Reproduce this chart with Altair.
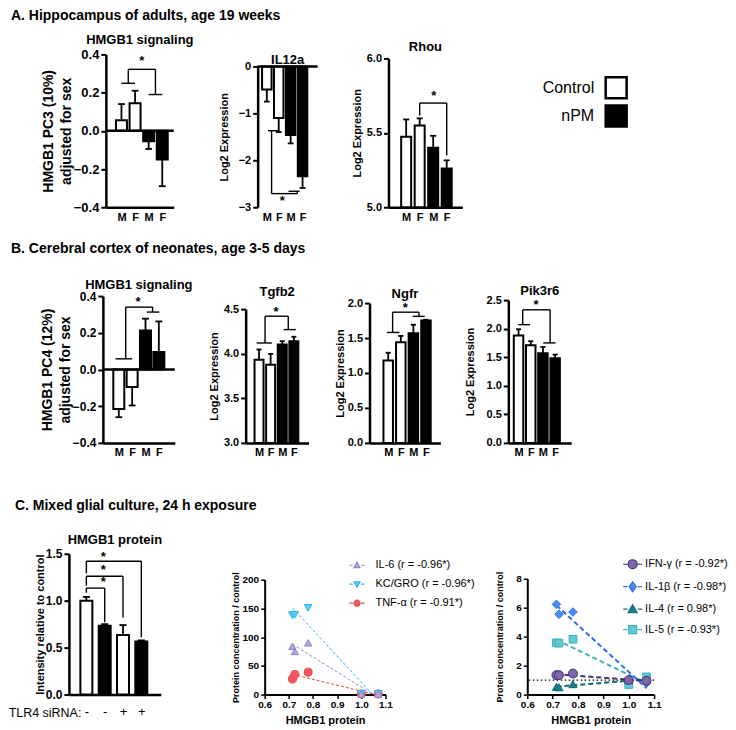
import altair as alt
import pandas as pd

FONT = "Liberation Sans"

# ---------------- shared categories ----------------
POS = [1, 2, 3, 4]
SEX = ["M", "F", "M", "F"]
GRP = ["Control", "Control", "nPM", "nPM"]
LEGEND_A = ["Control", "nPM"]
LEGEND_A_ROW = [0, 1]

# ---------------- A. Hippocampus ----------------
A1_VALS = [0.055, 0.145, -0.055, -0.15]
A1_ERRS = [0.085, 0.065, 0.04, 0.14]
A2_VALS = [-0.49, -1.10, -1.46, -2.34]
A2_ERRS = [0.26, 0.30, 0.18, 0.25]
A3_VALS = [5.473, 5.55, 5.40, 5.26]
A3_ERRS = [0.117, 0.047, 0.08, 0.055]

# ---------------- B. Cerebral cortex ----------------
B1_VALS = [-0.215, -0.096, 0.213, 0.095]
B1_ERRS = [0.045, 0.10, 0.064, 0.167]
B2_VALS = [3.933, 3.876, 4.103, 4.14]
B2_ERRS = [0.114, 0.122, 0.037, 0.05]
B3_VALS = [1.18, 1.44, 1.57, 1.75]
B3_ERRS = [0.11, 0.09, 0.12, 0.012]
B4_VALS = [1.88, 1.71, 1.57, 1.48]
B4_ERRS = [0.11, 0.07, 0.11, 0.065]

# ---------------- C. Mixed glial culture ----------------
C1_VALS = [1.0, 0.732, 0.635, 0.565]
C1_ERRS = [0.04, 0.018, 0.105, 0.012]
C1_GRP = ["Control", "nPM", "Control", "nPM"]
C1_LAB = ["-", "-", "+", "+"]

HMGB1_X = [0.715, 0.725, 0.78, 1.0, 1.07]
C2_SERIES = ["IL-6", "KC/GRO", "TNF-α"]
C2_R = ["-0.96*", "-0.96*", "-0.91*"]
C2_Y = {"IL-6": [84, 75, 90, 1, 1],
        "KC/GRO": [138, 139, 151, 1, 1],
        "TNF-α": [27, 35, 39, 1, 1]}
C3_SERIES = ["IFN-γ", "IL-1β", "IL-4", "IL-5"]
C3_R = ["-0.92*", "-0.98*", "0.98*", "-0.93*"]
C3_Y = {"IFN-γ": [1.34, 1.34, 1.45, 1.0, 0.95],
        "IL-1β": [6.23, 5.54, 5.70, 1.0, 0.8],
        "IL-4": [0.53, 0.5, 0.72, 1.0, 1.0],
        "IL-5": [3.57, 3.55, 3.82, 0.69, 1.22]}

# styles
C2_FILL = ["#b4a6dc", "#5ecbf5", "#f25a60"]
C2_STROKE = ["#9484c8", "#33b4ea", "#e2444c"]
C2_SHAPE = ["triangle-up", "triangle-down", "circle"]
C2_SIZE = [55, 65, 40]
C3_FILL = ["#7f65aa", "#4a8df5", "#17808a", "#63c8d0"]
C3_STROKE = ["#3e3172", "#2c6fe6", "#0f6b73", "#3fb2bc"]
C3_SHAPE = ["circle", "diamond", "triangle-up", "square"]
C3_SIZE = [80, 60, 60, 95]

G_TRI_UP = "M0,-1L1,0.8L-1,0.8Z"
G_TRI_DOWN = "M0,1L1,-0.8L-1,-0.8Z"
G_CIRCLE = "M-1,0A1,1,0,1,1,1,0A1,1,0,1,1,-1,0Z"
G_DIAMOND = "M0,-1.1L0.8,0L0,1.1L-0.8,0Z"
G_SQUARE = "M-0.9,-0.9L0.9,-0.9L0.9,0.9L-0.9,0.9Z"


def seg_group(g1a, g1b, y1, c1, top, c2, g2a, g2b, y2):
    return [(g1a, y1, g1b, y1), (c1, y1, c1, top), (c1, top, c2, top),
            (c2, top, c2, y2), (g2a, y2, g2b, y2)]


def seg_simple(x1, y1, top, x2, y2):
    return [(x1, y1, x1, top), (x1, top, x2, top), (x2, top, x2, y2)]


def bar_panel(title, vals, errs, groups, labels, width, H, top, xdom, ydom, yticks,
              fmt, base, ytitle, ytitle_size, ylabel_size, title_pad, bar_px, cap_px,
              zero_line, bottom_line, segs, stars, title_offset,
              xlab_weight="bold", xlab_size=11, xlab_pad=4, xaxis_extra=None):
    df = pd.DataFrame({"pos": POS, "v": vals, "e": errs, "g": groups})
    pxu = width / (xdom[1] - xdom[0])
    ch = cap_px / 2 / pxu
    lab_js = "[" + ",".join("'%s'" % l for l in labels) + "]"
    xkw = dict(values=POS, labelExpr=lab_js + "[datum.value - 1]", ticks=False,
               domain=bottom_line, domainWidth=2.5, labelFontSize=xlab_size,
               labelFontWeight=xlab_weight, labelPadding=xlab_pad, labelFlush=False,
               labelOverlap=False, grid=False, title=None)
    if xaxis_extra:
        xkw.update(xaxis_extra)
    xax = alt.Axis(**xkw)
    yax = alt.Axis(values=yticks, format=fmt, title=ytitle, titleFontSize=ytitle_size,
                   titlePadding=title_pad, labelFontSize=ylabel_size, tickSize=5,
                   tickWidth=2, domainWidth=2.5, grid=False, labelOverlap=False,
                   titleLineHeight=ytitle_size * 1.25)
    xsc = alt.Scale(domain=xdom, nice=False, zero=False)
    ysc = alt.Scale(domain=ydom, range=[H, top], nice=False, zero=False)

    def X(f):
        return alt.X(f, scale=xsc, axis=xax)

    def Y(f):
        return alt.Y(f, scale=ysc, axis=yax)

    bc = alt.Chart(df)
    bars = bc.mark_bar(size=bar_px, stroke="black", strokeWidth=2).encode(
        x=X("pos:Q"), y=Y("v:Q"), y2=alt.datum(base),
        fill=alt.Fill("g:N", scale=alt.Scale(domain=["Control", "nPM"], range=["white", "black"]),
                      legend=None))
    err_expr = "datum.v >= %s ? datum.v + datum.e : datum.v - datum.e" % base
    err = bc.transform_calculate(ve=err_expr).mark_rule(color="black", strokeWidth=1.8).encode(
        x=X("pos:Q"), y=Y("v:Q"), y2="ve:Q")
    caps = bc.transform_calculate(ve=err_expr, xl="datum.pos - %f" % ch,
                                  xr="datum.pos + %f" % ch).mark_rule(
        color="black", strokeWidth=1.8).encode(x=X("xl:Q"), x2="xr:Q", y=Y("ve:Q"))
    layers = [bars, err, caps]
    if zero_line:
        layers.append(alt.Chart(pd.DataFrame({"z": [0]})).mark_rule(
            color="black", strokeWidth=2.5).encode(y=alt.YDatum(0, scale=ysc, axis=yax)))
    sdf = pd.DataFrame(segs, columns=["sx", "sy", "sx2", "sy2"])
    layers.append(alt.Chart(sdf).mark_rule(color="black", strokeWidth=1.4).encode(
        x=X("sx:Q"), x2="sx2:Q", y=Y("sy:Q"), y2="sy2:Q"))
    tdf = pd.DataFrame(stars, columns=["tx", "ty"])
    layers.append(alt.Chart(tdf).mark_text(text="*", fontSize=13, fontWeight="bold", font=FONT,
                                           baseline="middle", color="black").encode(
        x=X("tx:Q"), y=Y("ty:Q")))
    return alt.layer(*layers).properties(
        width=width, height=H,
        title=alt.TitleParams(title, fontSize=13, fontWeight="bold", font=FONT, anchor="middle",
                              frame="group", offset=title_offset, color="black"))


def scatter_panel(series, rvals, ydata, fills, strokes, shapes, sizes, glyphs, dash_path,
                  width, H, top, ydom, yticks, ytitle_pad, line_w, dash, ref_line, leg):
    rows = []
    for s in reversed(series):
        for xv, yv in zip(HMGB1_X, ydata[s]):
            rows.append({"series": s, "hm": xv, "val": yv})
    df = pd.DataFrame(rows)
    xsc = alt.Scale(domain=[0.6, 1.1], nice=False, zero=False)
    ysc = alt.Scale(domain=ydom, range=[H, top], nice=False, zero=False)
    xax = alt.Axis(values=[0.6, 0.7, 0.8, 0.9, 1.0, 1.1], format=".1f",
                   title="HMGB1 protein", titleFontSize=11, titlePadding=5,
                   labelFontSize=10, labelPadding=1, tickSize=4, tickWidth=1.5,
                   domainWidth=2, labelFlush=False, labelOverlap=False, grid=False)
    yax = alt.Axis(values=yticks, format="d", title="Protein concentration / control",
                   titleFontSize=9, titlePadding=ytitle_pad, labelFontSize=10, labelOverlap=False,
                   tickSize=4, tickWidth=1.5, domainWidth=2, grid=False)
    x = alt.X("hm:Q", scale=xsc, axis=xax)
    y = alt.Y("val:Q", scale=ysc, axis=yax)
    layers = []
    if ref_line is not False:
        layers.append(alt.Chart(pd.DataFrame({"z": [0]})).mark_rule(
            color="black", strokeDash=[1.5, 2.5], strokeWidth=1.3).encode(
            y=alt.YDatum(ref_line, scale=ysc, axis=yax)))
    sc_stroke = alt.Scale(domain=series, range=strokes)
    layers.append(alt.Chart(df).transform_regression("hm", "val", groupby=["series"]).mark_line(
        strokeDash=dash, strokeWidth=line_w, clip=True).encode(
        x=x, y=y, stroke=alt.Stroke("series:N", scale=sc_stroke, legend=None)))
    layers.append(alt.Chart(df).mark_point(filled=True, opacity=1, strokeWidth=1).encode(
        x=x, y=y,
        shape=alt.Shape("series:N", scale=alt.Scale(domain=series, range=shapes), legend=None),
        fill=alt.Fill("series:N", scale=alt.Scale(domain=series, range=fills), legend=None),
        stroke=alt.Stroke("series:N", scale=sc_stroke, legend=None),
        size=alt.Size("series:N", scale=alt.Scale(domain=series, range=sizes), legend=None)))
    labels = ["%s (r = %s)" % (s, r) for s, r in zip(series, rvals)]
    paths = [dash_path + g for g in glyphs]
    lg = alt.Legend(orient="none", title=None, labelFont=FONT, labelFontWeight="normal",
                    labelColor="black", symbolStrokeWidth=1.2, padding=0, **leg)
    layers.append(alt.Chart(pd.DataFrame({"lg": labels})).transform_filter("false").mark_point(
        filled=True, opacity=1, strokeWidth=1.2).encode(
        shape=alt.Shape("lg:N", scale=alt.Scale(domain=labels, range=paths), legend=lg),
        fill=alt.Fill("lg:N", scale=alt.Scale(domain=labels, range=fills), legend=lg),
        stroke=alt.Stroke("lg:N", scale=alt.Scale(domain=labels, range=strokes), legend=lg)))
    return alt.layer(*layers).resolve_scale(
        shape="independent", fill="independent", stroke="independent", size="independent"
    ).properties(width=width, height=H)


def spacer(w, h, title=None, offset=0, dx=0):
    c = alt.Chart(pd.DataFrame({"z": [0]})).mark_point(opacity=0).encode(
        x=alt.value(0), y=alt.value(0)).properties(width=w, height=h)
    if title:
        c = c.properties(title=alt.TitleParams(title, anchor="start", frame="group", offset=offset,
                                               dx=dx, fontSize=14, fontWeight="bold", font=FONT,
                                               color="black"))
    return c


HA, HB, HC = 153, 147, 141
LOG2 = "Log2 Expression"

A1 = bar_panel("HMGB1 signaling", A1_VALS, A1_ERRS, GRP, SEX, 68, HA, 0, [0.22, 4.48], [-0.4, 0.4],
               [-0.4, -0.2, 0, 0.2, 0.4], ".1f", 0, ["HMGB1 PC3 (10%)", "adjusted for sex"], 14, 13,
               0, 11, 8, True, True,
               seg_group(1.0, 2.0, 0.249, 1.5, 0.322, 3.5, 3.0, 4.0, 0.19), [(2.5, 0.365)], 1.5)
A2 = bar_panel("IL12a", A2_VALS, A2_ERRS, GRP, SEX, 60, HA, 12, [0.65, 4.84], [-3, 0],
               [-3, -2, -1, 0], "d", 0, LOG2, 11, 11, 9, 9.5, 7, True, False,
               seg_group(1.1, 1.95, -1.37, 1.4, -2.71, 3.56, 2.82, 3.75, -2.66), [(2.3, -2.86)], -12.5)
A3 = bar_panel("Rhou", A3_VALS, A3_ERRS, GRP, SEX, 74, HA, 4, [0.06, 4.79], [5, 6],
               [5, 5.5, 6], ".1f", 5, LOG2, 11, 11, 3.5, 10, 7, False, True,
               seg_simple(2, 5.617, 5.70, 4, 5.35), [(3.05, 5.75)], -1.5)

# legend for the Control / nPM fill (two rows)
lgA_df = pd.DataFrame({"lgA": LEGEND_A, "row": LEGEND_A_ROW})
lgA_y = alt.Y("row:Q", scale=alt.Scale(domain=[0, 1], range=[33.3, 61.6]), axis=None)
legA = alt.layer(
    alt.Chart(lgA_df).mark_square(size=440, stroke="black", strokeWidth=2.5, opacity=1).encode(
        x=alt.value(46), y=lgA_y,
        fill=alt.Fill("lgA:N", scale=alt.Scale(domain=LEGEND_A, range=["white", "black"]),
                      legend=None)),
    alt.Chart(lgA_df).mark_text(align="right", baseline="middle", fontSize=16, font=FONT,
                                color="black").encode(x=alt.value(24), y=lgA_y, text="lgA:N"),
).properties(width=1, height=HA)

B1 = bar_panel("HMGB1 signaling", B1_VALS, B1_ERRS, GRP, SEX, 72, HB, 0, [0.18, 4.82], [-0.4, 0.4],
               [-0.4, -0.2, 0, 0.2, 0.4], ".1f", 0, ["HMGB1 PC4 (12%)", "adjusted for sex"], 14, 12,
               0, 11, 8, True, True,
               seg_group(0.75, 2.0, 0.058, 1.52, 0.34, 3.53, 3.1, 4.03, 0.313), [(2.45, 0.37)], -1.5)
B2 = bar_panel("Tgfb2", B2_VALS, B2_ERRS, GRP, SEX, 63, HB, 13, [0.28, 4.84], [3, 4.5],
               [3, 3.5, 4, 4.5], ".1f", 3, LOG2, 11, 11, 3.5, 9, 6, False, True,
               seg_group(0.8, 2.11, 4.12, 1.52, 4.42, 3.52, 3.12, 4.17, 4.27), [(2.46, 4.47)], -2.5)
B3 = bar_panel("Ngfr", B3_VALS, B3_ERRS, GRP, SEX, 71, HB, 7, [-0.09, 4.75], [0, 2],
               [0, 0.5, 1, 1.5, 2], ".1f", 0, LOG2, 11, 11, 1.5, 9.5, 6, False, True,
               seg_group(0.9, 1.9, 1.58, 1.35, 1.87, 3.45, 2.95, 3.9, 1.81), [(2.35, 1.93)], -4.5)
B4 = bar_panel("Pik3r6", B4_VALS, B4_ERRS, GRP, SEX, 63, HB, 4, [0.57, 4.91], [0, 2.5],
               [0, 0.5, 1, 1.5, 2, 2.5], ".1f", 0, LOG2, 11, 11, 11, 9.5, 6, False, True,
               seg_group(0.98, 1.94, 2.07, 1.34, 2.33, 3.59, 3.02, 4.03, 1.75), [(2.44, 2.42)], -3.5)

C1 = bar_panel("HMGB1 protein", C1_VALS, C1_ERRS, C1_GRP, C1_LAB, 92, HC, 0, [0.32, 4.79], [0, 1.5],
               [0, 0.5, 1, 1.5], ".1f", 0, "Intensity relative to control", 11, 12, 0, 12, 8,
               False, True,
               seg_simple(1, 1.085, 1.134, 2, 0.77) + seg_simple(1, 1.16, 1.26, 3, 0.82)
               + seg_simple(1, 1.29, 1.42, 4, 0.61),
               [(1.92, 1.20), (1.92, 1.33), (1.92, 1.47)], 0.5,
               xlab_weight="normal", xlab_size=13, xlab_pad=11,
               xaxis_extra=dict(title="TLR4 siRNA:", titleX=12, titleY=18, titleAlign="right",
                                titleBaseline="middle", titleAngle=0, titleFontWeight="normal",
                                titleFontSize=12.5))

C2 = scatter_panel(C2_SERIES, C2_R, C2_Y, C2_FILL, C2_STROKE, C2_SHAPE, C2_SIZE,
                   [G_TRI_UP, G_TRI_DOWN, G_CIRCLE], "M-2.5,0L-1.4,0M1.4,0L2.5,0",
                   121, HC, 26, [0, 200], [0, 50, 100, 150, 200], 1, 1, [3, 2], False,
                   dict(legendX=87, legendY=6, labelFontSize=11, symbolSize=36, labelOffset=13,
                        rowPadding=7))
C3 = scatter_panel(C3_SERIES, C3_R, C3_Y, C3_FILL, C3_STROKE, C3_SHAPE, C3_SIZE,
                   [G_CIRCLE, G_DIAMOND, G_TRI_UP, G_SQUARE], "M-2.1,0L-1.15,0M1.15,0L2.1,0",
                   127, HC, 25, [0, 8], [0, 2, 4, 6, 8], 11, 2, [5, 3], 1,
                   dict(legendX=100, legendY=5, labelFontSize=11, symbolSize=81, labelOffset=7,
                        rowPadding=7.5))

RES = dict(fill="independent", stroke="independent", shape="independent", size="independent",
           color="independent")

rowA = alt.hconcat(spacer(95, HA, "A. Hippocampus of adults, age 19 weeks", 29), A1, spacer(84, HA), A2,
                   spacer(71, HA), A3, spacer(108, HA), legA,
                   spacing=0, bounds="flush").resolve_scale(**RES)
rowB = alt.hconcat(spacer(92, HB, "B. Cerebral cortex of neonates, age 3-5 days", 37), B1, spacer(71, HB),
                   B2, spacer(61, HB), B3, spacer(68, HB), B4,
                   spacing=0, bounds="flush").resolve_scale(**RES)
rowC = alt.hconcat(spacer(58, HC, "C. Mixed glial culture, 24 h exposure", 38, 4), C1, spacer(104, HC), C2,
                   spacer(142, HC), C3,
                   spacing=0, bounds="flush").resolve_scale(**RES)

chart = alt.vconcat(rowA, spacer(1, 17), rowB, spacer(1, 38), rowC, spacing=0).resolve_scale(
    **RES).properties(padding=0).configure_view(stroke=None).configure_axis(
    grid=False, domainColor="black", tickColor="black", labelColor="black", titleColor="black",
    labelFont=FONT, titleFont=FONT, labelFontWeight="bold", titleFontWeight="bold",
    labelOverlap=False
).configure_axisX(labelFlush=False).configure_title(font=FONT, color="black")

chart.save("out.html", embed_options={"renderer": "svg", "actions": False})
